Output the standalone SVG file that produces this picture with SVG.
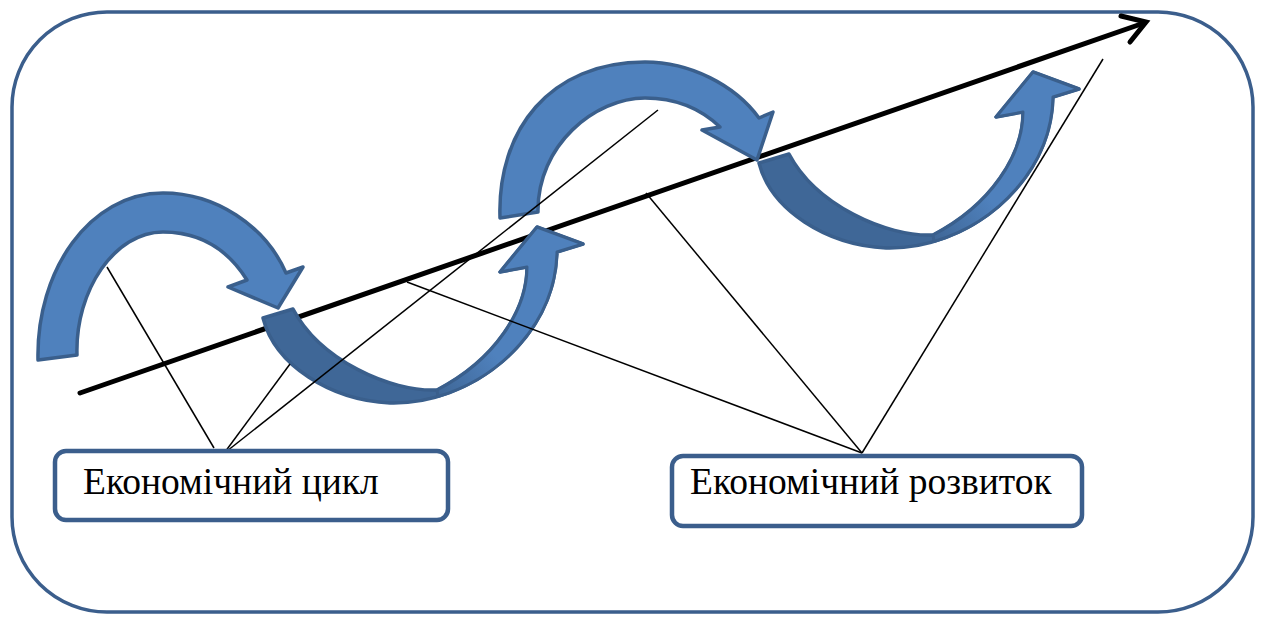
<svg xmlns="http://www.w3.org/2000/svg" width="1263" height="617" viewBox="0 0 1263 617">
  <style>
    .frame { fill: #ffffff; stroke: #3b5e8c; stroke-width: 3.5; }
    .trend { fill: none; stroke: #000000; stroke-width: 5; stroke-linecap: round; stroke-linejoin: miter; }
    .cyc { fill: #4f81bd; stroke: #3a5f8c; stroke-width: 3.5; stroke-linejoin: round; }
    .cyc-back { fill: #3f6797; stroke: #3a5f8c; stroke-width: 3.5; stroke-linejoin: round; }
    .cyc-rise { fill: url(#riseFill); stroke: #3a5f8c; stroke-width: 3; stroke-linejoin: round; }
    .leader { fill: none; stroke: #000000; stroke-width: 1.5; }
    .box { fill: #ffffff; stroke: #3b5e8c; stroke-width: 4.5; }
    .label { font-family: "Liberation Serif", "Times New Roman", serif; font-size: 37.5px; fill: #000000; }
  </style>
  <defs>
    <linearGradient id="riseFill" gradientUnits="userSpaceOnUse" x1="440" y1="396" x2="495" y2="355">
      <stop offset="0" stop-color="#3f6797"/>
      <stop offset="1" stop-color="#4f81bd"/>
    </linearGradient>
    <!-- lower curved arrow: descending back band plus rising band with head -->
    <g id="lowerArc">
      <path class="cyc-back" d="M263,318 C275,365 330,400 390,403 C470,405 555,340 557,252 L583,244 L537,227 L500,272 L527,267 C527,310 495,360 437,390 C390,392 320,360 293,309 Z"/>
      <path class="cyc-rise" d="M438,396.5 C500.7,378.1 555.4,322.4 557,252 L583,244 L537,227 L500,272 L527,267 C527,310 495,360 437,390 Z"/>
    </g>
  </defs>

  <!-- outer frame -->
  <rect class="frame" x="12" y="12" width="1241" height="600" rx="95" ry="95"/>

  <!-- long-run development trend -->
  <g id="trend">
    <line class="trend" x1="80" y1="393" x2="1144" y2="23"/>
    <polyline class="trend" points="1121,16 1146,22 1130,42"/>
  </g>

  <!-- business cycle arcs -->
  <g id="cycle-arc-1">
    <path class="cyc" d="M38,360 C36,270 90,193 163,193 C215,193 265,225 286,273 L303,267 L278,308 L228,287 L247,280 C225,245 195,232 163,232 C115,232 75,290 77,355 Z"/>
  </g>
  <g id="cycle-arc-2">
    <use href="#lowerArc"/>
  </g>
  <g id="cycle-arc-3">
    <path class="cyc" d="M500,218 C497,130 550,62 645,62 C690,62 735,85 759,118 L773,112 L757,160 L702,130 L720,127 C700,108 675,98 645,98 C595,98 537,145 538,212 Z"/>
  </g>
  <g id="cycle-arc-4">
    <use href="#lowerArc" transform="translate(496,-155)"/>
  </g>

  <!-- leader lines -->
  <g id="connectors">
    <line class="leader" x1="107" y1="267" x2="214" y2="448"/>
    <line class="leader" x1="290" y1="364" x2="225" y2="452"/>
    <line class="leader" x1="658" y1="110" x2="222" y2="455"/>
    <line class="leader" x1="407" y1="282" x2="862" y2="453"/>
    <line class="leader" x1="646" y1="193" x2="862" y2="453"/>
    <line class="leader" x1="1103" y1="59" x2="862" y2="453"/>
  </g>

  <!-- labels -->
  <g id="label-cycle">
    <rect class="box" x="55" y="451" width="393" height="69" rx="11" ry="11"/>
    <text class="label" x="83" y="494">Економічний цикл</text>
  </g>
  <g id="label-development">
    <rect class="box" x="672" y="456" width="410" height="70" rx="11" ry="11"/>
    <text class="label" x="690" y="494">Економічний розвиток</text>
  </g>
</svg>
